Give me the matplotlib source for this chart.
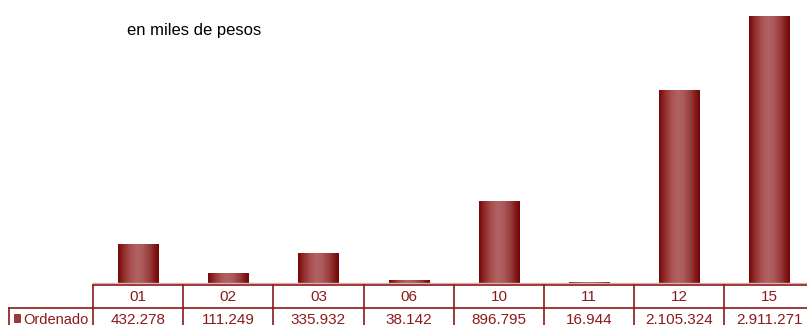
import numpy as np
import matplotlib
matplotlib.use("Agg")
import matplotlib.pyplot as plt
from matplotlib.colors import LinearSegmentedColormap
from matplotlib.patches import Rectangle

categories = ["01", "02", "03", "06", "10", "11", "12", "15"]
values = [432278, 111249, 335932, 38142, 896795, 16944, 2105324, 2911271]
value_labels = ["432.278", "111.249", "335.932", "38.142", "896.795",
                "16.944", "2.105.324", "2.911.271"]
series_name = "Ordenado"
subtitle = "en miles de pesos"

W, H = 807, 325
line_col = "#8b1a1a"
text_col = "#8b1a1a"

plt.rcParams["font.family"] = ["Liberation Sans", "DejaVu Sans"]

fig = plt.figure(figsize=(W / 100, H / 100), dpi=100)

# plot area: columns start at x=93, each ~90.2 px wide, baseline at y=284
x0, col_w, base_y = 93, 90.2, 284
n = len(categories)
ax = fig.add_axes([x0 / W, (H - base_y) / H, n * col_w / W, base_y / H])
ymax = max(values) * base_y / 268.0
ax.axis("off")

cyl = LinearSegmentedColormap.from_list(
    "cyl", [(0.0, "#760606"), (0.12, "#8e2828"), (0.3, "#a85050"),
            (0.45, "#b06262"), (0.6, "#ab5a5a"), (0.78, "#963a3a"),
            (0.92, "#801414"), (1.0, "#740404")])
grad = np.linspace(0, 1, 256).reshape(1, -1)
bw = 40.3 / col_w
for i, v in enumerate(values):
    left = i + 0.5 - bw / 2
    ax.imshow(grad, cmap=cyl, aspect="auto", extent=(left, left + bw, 0, v),
              interpolation="bilinear", zorder=2)
ax.set_xlim(0, n)
ax.set_ylim(0, ymax)

# light shadow under the baseline
fig.add_artist(plt.Line2D([x0 / W, 1], [(H - base_y + 1.5) / H] * 2,
                          color="#d9b0b0", lw=1))

# data table drawn in figure pixels
def fx(px):
    return px / W

def fy(py):
    return (H - py) / H

row1_top, row2_top, row2_bot = 284.5, 307.5, 340
left_edge = 8.5
kw = dict(color=line_col, lw=1.2, transform=fig.transFigure)
fig.add_artist(plt.Line2D([fx(x0), fx(W + 10)], [fy(row1_top)] * 2, **kw))
fig.add_artist(plt.Line2D([fx(left_edge), fx(W + 10)], [fy(row2_top)] * 2, **kw))
fig.add_artist(plt.Line2D([fx(left_edge)] * 2, [fy(row2_top), fy(row2_bot)], **kw))
for k in range(n + 1):
    xp = x0 + k * col_w
    fig.add_artist(plt.Line2D([fx(xp)] * 2, [fy(row1_top), fy(row2_bot)], **kw))

for k, (cat, lab) in enumerate(zip(categories, value_labels)):
    cx = x0 + (k + 0.5) * col_w
    fig.text(fx(cx), fy(297), cat, ha="center", va="center",
             fontsize=11, color=text_col)
    fig.text(fx(cx), fy(320.5), lab, ha="center", va="center",
             fontsize=11, color=text_col)

fig.add_artist(Rectangle((fx(14), fy(321.5)), fx(5.5), 7.5 / H,
                         transform=fig.transFigure, facecolor="#9a3a3a",
                         edgecolor="#7a1010", lw=0.5))
fig.text(fx(23.5), fy(320.5), series_name, ha="left", va="center",
         fontsize=10.5, color=text_col)

fig.text(fx(127), fy(31), subtitle, ha="left", va="center",
         fontsize=12, color="black")

fig.savefig("out.png", dpi=100)
